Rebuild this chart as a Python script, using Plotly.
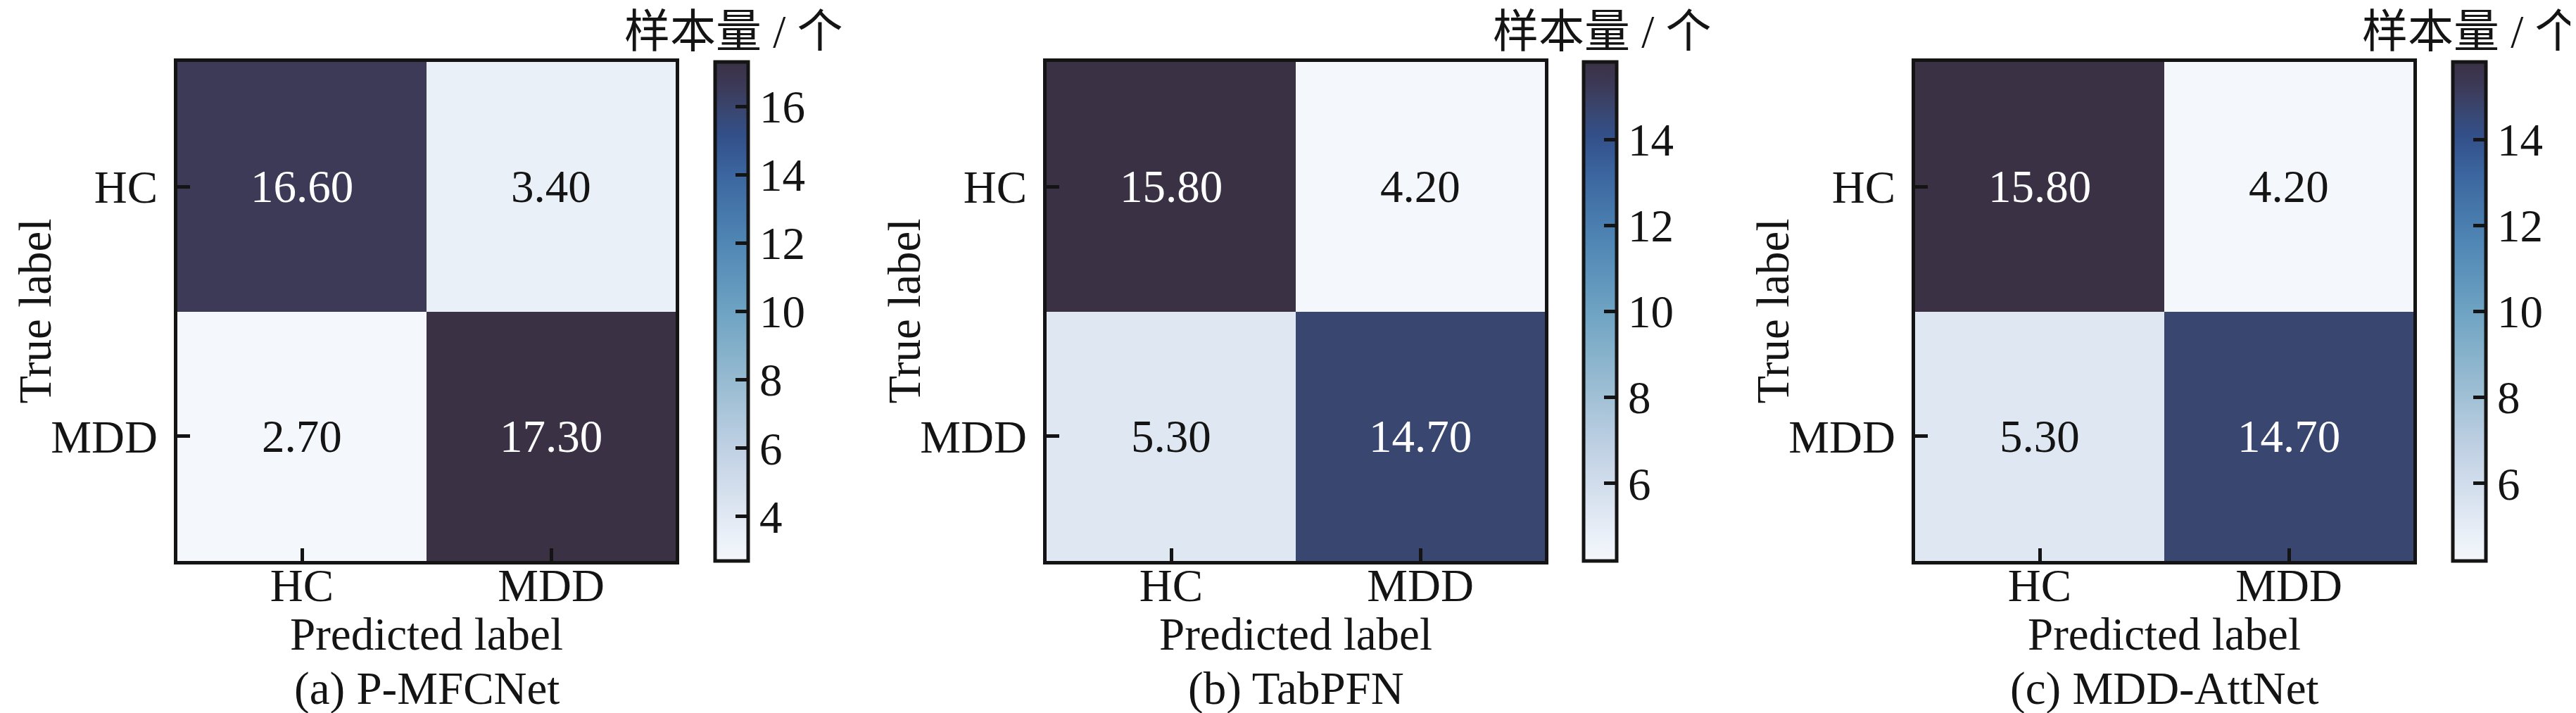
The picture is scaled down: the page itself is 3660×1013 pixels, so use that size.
import plotly.graph_objects as go

# ---------------- data ----------------
class_labels = ["HC", "MDD"]
model_names = ["P-MFCNet", "TabPFN", "MDD-AttNet"]
panel_tags = ["(a)", "(b)", "(c)"]
cm_pmfcnet = [[16.60, 3.40], [2.70, 17.30]]
cm_tabpfn = [[15.80, 4.20], [5.30, 14.70]]
cm_mddattnet = [[15.80, 4.20], [5.30, 14.70]]
matrices = [cm_pmfcnet, cm_tabpfn, cm_mddattnet]
colorbar_title = "样本量 / 个"
x_title = "Predicted label"
y_title = "True label"

# ---------------- style ----------------
W, H = 3660, 1013
FONT = "Liberation Serif, Times New Roman, serif"
CJK_FONT = "Liberation Serif, Noto Sans CJK SC, serif"
FS = 65
INK = "#141414"
LW = 5

colorscale = [
    [0.00, "#f4f7fb"],
    [0.05, "#eaf0f8"],
    [0.09, "#e0e8f3"],
    [0.23, "#bfd0e3"],
    [0.36, "#97bbd1"],
    [0.50, "#6ea3c3"],
    [0.64, "#4f86b4"],
    [0.77, "#3c67a0"],
    [0.85, "#33508a"],
    [0.905, "#39466f"],
    [0.95, "#3c3a58"],
    [1.00, "#3a3145"],
]

plot_left = [244, 1479, 2713]
plot_w = 708
plot_top, plot_bot = 80, 789
cbar_left = [1008, 2242, 3477]
cbar_w = 52


def fx(px):
    return px / W


def fy(py):
    return 1 - py / H


fig = go.Figure()
annotations = []
layout_axes = {}

for i, (cm, name, tag) in enumerate(zip(matrices, model_names, panel_tags)):
    k = "" if i == 0 else str(i + 1)
    flat = [v for row in cm for v in row]
    zmin, zmax = min(flat), max(flat)
    mid = (zmin + zmax) / 2
    ca = "coloraxis" + k
    fig.add_trace(go.Heatmap(
        z=cm, x=class_labels, y=class_labels,
        coloraxis=ca, xaxis="x" + k, yaxis="y" + k,
        hoverinfo="skip", xgap=0, ygap=0,
    ))
    L = plot_left[i]
    layout_axes["xaxis" + k] = dict(
        domain=[fx(L), fx(L + plot_w)], anchor="y" + k,
        type="category", showgrid=False, zeroline=False,
        showline=True, linewidth=LW, linecolor=INK, mirror=True,
        ticks="inside", ticklen=18, tickwidth=LW, tickcolor=INK,
        tickfont=dict(family=FONT, size=FS, color=INK),
        ticklabelstandoff=-26,
    )
    layout_axes["yaxis" + k] = dict(
        domain=[fy(plot_bot), fy(plot_top)], anchor="x" + k,
        type="category", autorange="reversed", showgrid=False, zeroline=False,
        showline=True, linewidth=LW, linecolor=INK, mirror=True,
        ticks="inside", ticklen=18, tickwidth=LW, tickcolor=INK,
        tickfont=dict(family=FONT, size=FS, color=INK),
        ticklabelstandoff=10,
    )
    cbL = cbar_left[i]
    layout_axes[ca] = dict(
        colorscale=colorscale, cmin=zmin, cmax=zmax,
        colorbar=dict(
            x=fx(cbL), xanchor="left", xpad=0, ypad=0,
            y=fy((plot_top + plot_bot) / 2), yanchor="middle",
            lenmode="pixels", len=plot_bot - plot_top,
            thicknessmode="pixels", thickness=cbar_w - LW,
            outlinewidth=LW, outlinecolor=INK,
            ticks="inside", ticklen=20, tickwidth=LW, tickcolor=INK,
            tick0=0, dtick=2,
            tickfont=dict(family=FONT, size=FS, color=INK),
        ),
    )
    # cell values
    for r, ylab in enumerate(class_labels):
        for c, xlab in enumerate(class_labels):
            v = cm[r][c]
            annotations.append(dict(
                x=xlab, y=ylab, xref="x" + k, yref="y" + k,
                text=f"{v:.2f}", showarrow=False,
                font=dict(family=FONT, size=FS, color="white" if v > mid else INK),
            ))
    cx = L + plot_w / 2
    # axis titles and panel caption
    annotations.append(dict(
        x=fx(cx), y=fy(893), xref="paper", yref="paper", text=x_title,
        showarrow=False, xanchor="center", yanchor="middle",
        font=dict(family=FONT, size=FS, color=INK),
    ))
    annotations.append(dict(
        x=fx(cx), y=fy(970), xref="paper", yref="paper", text=f"{tag} {name}",
        showarrow=False, xanchor="center", yanchor="middle",
        font=dict(family=FONT, size=FS, color=INK),
    ))
    annotations.append(dict(
        x=fx(L - 203), y=fy((plot_top + plot_bot) / 2), xref="paper", yref="paper",
        text=y_title, textangle=-90, showarrow=False,
        xanchor="center", yanchor="middle",
        font=dict(family=FONT, size=FS, color=INK),
    ))
    annotations.append(dict(
        x=fx(cbL + cbar_w / 2), y=fy(37), xref="paper", yref="paper",
        text=colorbar_title, showarrow=False, xanchor="center", yanchor="middle",
        font=dict(family=CJK_FONT, size=FS, color=INK),
    ))

fig.update_layout(
    width=W, height=H,
    margin=dict(l=0, r=0, t=0, b=0),
    paper_bgcolor="white", plot_bgcolor="white",
    showlegend=False,
    annotations=annotations,
    **layout_axes,
)

fig.write_html("out.html")
